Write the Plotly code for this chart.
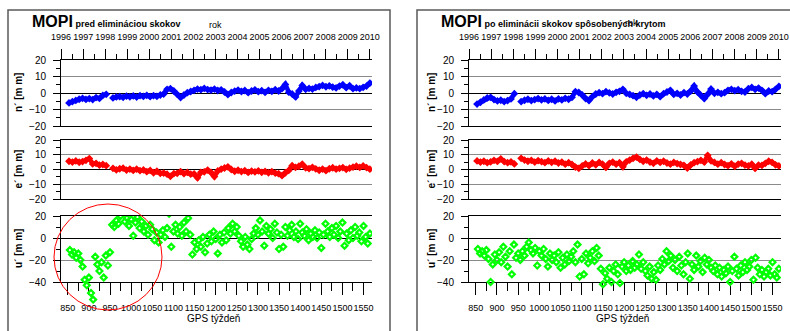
import datetime as dt
import plotly.graph_objects as go

# ---------------- data ----------------
weeks_ne = list(range(853, 1566, 8))   # GPS weeks of the n'/e' samples
weeks_u = list(range(855, 1566, 5))    # GPS weeks of the u' samples

n_left = [-6.0, -5.2, -4.5, -3.8, -3.2, -3.9, -3.4, -4.0, -2.8, -3.3, -1.5, -0.8, None, -3.0, -2.4, -2.2,
          -2.6, -1.9, -2.3, -1.8, -2.5, -1.6, -2.1, -1.4, -2.2, -1.6, -2.0, -1.2, -0.6, 2.2, 2.6, 1.2,
          -0.8, -2.8, -1.2, 0.2, 0.9, 1.6, 2.4, 2.0, 2.8, 2.1, 1.8, 2.4, 1.5, 1.9, 0.6, -0.9,
          0.3, 1.1, 1.8, 0.9, 1.5, 0.2, 1.2, 1.9, 0.8, 1.4, 0.4, 1.6, 1.0, 2.0, 1.2, 2.6,
          5.2, 0.5, -0.6, -2.4, 1.2, 4.6, 2.2, 2.8, 2.4, 3.4, 3.9, 4.6, 3.8, 4.3, 3.5, 3.1,
          4.2, 5.0, 3.2, 4.4, 2.6, 3.1, 2.7, 3.4, 4.2, 6.0]
e_left = [5.6, 5.0, 5.8, 4.9, 5.4, 6.2, 7.4, 3.8, 4.2, 2.9, 3.4, 2.6, None, 0.8, -0.2, 0.5,
          0.9, -0.4, 0.3, -0.6, 0.2, -0.8, -0.3, -1.5, -0.6, -2.2, -1.2, -2.6, -2.4, -3.2, -4.6, -2.8,
          -2.6, -1.4, -2.8, -2.0, -3.2, -3.0, -5.6, -1.9, -1.6, -0.4, -2.0, -4.8, -1.0, 0.2, 1.0, 1.8,
          0.0, -1.2, -0.5, -1.4, -0.8, -2.0, -1.1, -1.6, -0.9, -1.9, -1.3, -2.2, -1.5, -2.4, -2.8, -4.2,
          -2.2, -0.6, 2.6, 1.4, 2.2, 3.6, 1.2, 0.6, 1.5, 0.4, -0.5, 0.3, -0.8, 0.5, 1.2, 0.2,
          0.8, 1.3, 0.1, 0.9, 1.6, 2.2, 1.4, 2.4, 1.3, 0.2]
u_left = [-11, -15, -13, -18, -14, -20, -26, -38, -43, -36, -50, -56, -17, -24, -30, -22, -36, -16, -25, -13,
          12, 10, 16, 13, 20, 24, 15, 18, 11, 17, 2, 14, 19, 9, 15, 6, 11, 3, 12, 8,
          -2, 5, -4, 3, 7, 1, 9, 22, -8, 6, 12, 4, 10, 2, 14, 6, 18, 3, -15, -4,
          -10, -2, -8, 1, -13, -5, 3, -3, 6, -1, -14, 3, -4, 5, -2, 9, 4, 13, 6, 10,
          2, -3, -8, 1, -6, -10, -1, 4, 9, 3, 16, 6, -7, 11, 4, 8, 0, 13, 5, -10,
          3, -8, 10, 2, 7, 12, 1, 6, -1, 13, 5, 2, 8, -2, 4, 1, 7, 0, 5, -9,
          3, 13, 6, 1, 9, 3, 11, 0, 6, 14, -7, 4, -2, 7, 0, 10, 2, 5, -3, 11,
          1, -5, 4]

n_right = [-6.7, -5.6, -4.2, -3.0, -2.6, -4.0, -4.8, -4.4, -5.2, -4.6, -3.6, -0.4, None, -5.2, -4.4, -3.8,
           -4.6, -4.0, -3.4, -4.2, -3.6, -4.5, -3.8, -4.8, -3.6, -4.2, -3.2, -3.8, -2.6, 0.8, 0.3, -1.2,
           -3.4, -4.6, -2.2, -0.6, 0.2, -0.4, 0.8, 0.1, -0.6, 0.4, 1.0, 2.2, -0.2, -0.8, -1.6, -2.6,
           -1.2, -0.4, -1.4, -0.6, -1.8, -0.8, -2.2, -0.4, 0.6, 1.6, -0.8, -0.2, -1.2, 0.2, -0.6, 1.2,
           4.2, 0.6, -1.4, -3.4, -0.8, 2.4, -0.2, 0.4, -0.4, 0.2, 1.6, 2.2, 1.4, 2.0, 1.0, 0.6,
           2.6, 3.4, 2.2, 3.0, 1.6, -0.4, 1.2, 0.8, 2.2, 4.0]
e_right = [5.8, 5.0, 5.6, 4.6, 5.2, 6.2, 5.5, 7.2, 5.4, 4.6, 5.2, 3.8, None, 7.6, 6.4, 5.6,
           6.2, 5.0, 6.0, 5.4, 4.6, 5.8, 4.8, 5.6, 4.4, 5.0, 3.6, 4.6, 3.4, 1.6, 0.8, 2.4,
           3.8, 2.6, 4.4, 3.2, 4.8, 3.6, 1.4, 4.2, 5.0, 3.6, 4.6, 1.8, 5.2, 6.4, 7.6, 8.4,
           6.8, 5.6, 6.4, 5.0, 4.2, 5.8, 4.8, 5.6, 4.4, 3.6, 4.8, 4.0, 3.4, 2.8, 1.0, 3.2,
           4.6, 5.4, 6.2, 5.0, 9.6, 5.8, 4.8, 3.6, 4.6, 3.4, 2.6, 3.8, 2.2, 3.6, 4.2, 3.0,
           2.4, 3.6, 0.8, 3.0, 2.8, 4.2, 5.6, 4.8, 3.2, 2.4]
u_right = [-10, -14, -12, -16, -11, -19, -40, -24, -15, -20, -13, -22, -8, -17, -26, -12, -33, -6, -18, -14,
           -20, -12, -16, -8, -4, -11, -14, -9, -25, -12, -16, -10, -19, -26, -14, -20, -16, -22, -13, -27,
           -18, -24, -15, -21, -17, -12, -22, -6, -35, -19, -33, -14, -23, -18, -12, -21, -9, -16, -28, -42,
           -32, -37, -27, -40, -30, -24, -33, -41, -26, -22, -30, -25, -29, -21, -27, -24, -15, -28, -22, -30,
           -34, -26, -37, -31, -38, -25, -29, -19, -24, -12, -21, -16, -27, -20, -30, -17, -25, -33, -22, -14,
           -37, -24, -29, -16, -26, -21, -31, -18, -24, -20, -27, -30, -25, -33, -27, -35, -29, -32, -26, -40,
           -30, -17, -28, -34, -25, -31, -22, -29, -26, -20, -38, -18, -27, -33, -29, -35, -31, -28, -34, -22,
           -33, -36, -28]

years = list(range(1996, 2011))
gps_ticks = list(range(850, 1551, 50))
gps_minor = list(range(875, 1551, 50))

titles_main = ["pred elimináciou skokov", "po eliminácii skokov spôsobených krytom"]

# ---------------- helpers ----------------
def gps_week(d):
    return (d - dt.date(1980, 1, 6)).days / 7.0

year_pos = [gps_week(dt.date(y, 1, 1)) for y in years]
half_pos = [gps_week(dt.date(y, 7, 1)) for y in years[:-1]]

W, H = 790, 331
def px(x):
    return x / W
def py(y):
    return 1 - y / H

FONT = "Liberation Sans Narrow, Arial Narrow, Liberation Sans, Arial, sans-serif"
XR = [834, 1570]

panels = [
    dict(xd=[px(61), px(372)], box=(8, 390), tx=30, rok=215, ylab=18, gps=213),
    dict(xd=[px(469), px(781)], box=(417, 792), tx=439, rok=631, ylab=431, gps=622),
]
rows = dict(n=[py(126), py(60)], e=[py(199), py(140)], u=[py(282), py(216)])
# hidden axes for u' points: same scale as the u' axis, but reaching below -40
U_EXT_RANGE = [-60, 20]
u_ext_domain = [py(304), py(216)]

series = [(n_left, e_left, u_left), (n_right, e_right, u_right)]

fig = go.Figure()
layout = {}
annotations = []
shapes = []

def an(i):
    return "" if i == 1 else str(i)

for p, pan in enumerate(panels):
    nvals, evals, uvals = series[p]
    b = 3 * p
    ids = [b + 1, b + 2, b + 3]
    ext = str(7 + p)
    # traces
    fig.add_trace(go.Scatter(x=weeks_ne, y=nvals, mode="lines+markers",
                             line=dict(color="#0000FF", width=4.5),
                             marker=dict(color="#0000FF", size=6, symbol="diamond"),
                             xaxis="x" + an(ids[0]), yaxis="y" + an(ids[0]),
                             showlegend=False, connectgaps=False))
    fig.add_trace(go.Scatter(x=weeks_ne, y=evals, mode="lines+markers",
                             line=dict(color="#FF0000", width=4.5),
                             marker=dict(color="#FF0000", size=6, symbol="diamond"),
                             xaxis="x" + an(ids[1]), yaxis="y" + an(ids[1]),
                             showlegend=False, connectgaps=False))
    # empty trace so that the visible u' axes are drawn
    fig.add_trace(go.Scatter(x=[], y=[], mode="markers", xaxis="x" + an(ids[2]),
                             yaxis="y" + an(ids[2]), showlegend=False))
    fig.add_trace(go.Scatter(x=weeks_u, y=uvals, mode="markers",
                             marker=dict(color="#00FF00", size=4.5, symbol="diamond-open",
                                         line=dict(color="#00FF00", width=2.2)),
                             xaxis="x" + ext, yaxis="y" + ext,
                             showlegend=False))

    for k, key in enumerate(["n", "e", "u"]):
        i = ids[k]
        xa = dict(domain=pan["xd"], range=XR, anchor="y" + an(i), showgrid=False,
                  zeroline=False, showline=True, linecolor="black", linewidth=1,
                  mirror=True, fixedrange=True, automargin=False, tickangle=0)
        if key == "n":
            xa.update(side="top", tickmode="array", tickvals=year_pos, ticktext=[str(y) for y in years],
                      ticks="outside", ticklen=10, tickcolor="black", tickwidth=1,
                      ticklabelstandoff=5,
                      tickfont=dict(family=FONT, size=9, color="black"),
                      minor=dict(tickmode="array", tickvals=half_pos, ticks="outside",
                                 ticklen=5, tickcolor="black", tickwidth=1))
        elif key == "e":
            xa.update(showticklabels=False, ticks="")
        else:
            xa.update(tickmode="array", tickvals=gps_ticks, ticktext=[str(t) for t in gps_ticks],
                      ticks="outside", ticklen=12, tickcolor="black", tickwidth=1,
                      ticklabelstandoff=5,
                      tickfont=dict(family=FONT, size=9, color="black"),
                      minor=dict(tickmode="array", tickvals=gps_minor, ticks="outside",
                                 ticklen=8, tickcolor="black", tickwidth=1))
        if key == "u":
            yr, ydt, ymin = [-40, 20], 20, 10
        else:
            yr, ydt, ymin = [-20, 20], 10, 5
        ya = dict(domain=rows[key], range=yr, anchor="x" + an(i), dtick=ydt, tick0=0,
                  showgrid=True, gridcolor="#8a8a8a", gridwidth=1,
                  zeroline=True, zerolinecolor="black", zerolinewidth=1,
                  showline=True, linecolor="black", linewidth=1,
                  ticks="outside", ticklen=7, tickcolor="black", tickwidth=1,
                  ticklabelstandoff=5, automargin=False,
                  tickfont=dict(family=FONT, size=10, color="black"),
                  minor=dict(dtick=ymin, tick0=0, ticks="outside", ticklen=4,
                             tickcolor="black", tickwidth=1, showgrid=False),
                  fixedrange=True)
        layout["xaxis" + an(i)] = xa
        layout["yaxis" + an(i)] = ya

    layout["xaxis" + ext] = dict(domain=pan["xd"], range=XR, anchor="y" + ext, visible=False,
                                 showgrid=False, zeroline=False, automargin=False, fixedrange=True)
    layout["yaxis" + ext] = dict(domain=u_ext_domain, range=U_EXT_RANGE, anchor="x" + ext,
                                 visible=False, showgrid=False, zeroline=False,
                                 automargin=False, fixedrange=True)

    # y axis titles
    for key, lab in [("n", "n´ [m m]"), ("e", "e´ [m m]"), ("u", "u´ [m m]")]:
        d = rows[key]
        annotations.append(dict(x=px(pan["ylab"]), y=(d[0] + d[1]) / 2, xref="paper", yref="paper",
                                text="<b>" + lab + "</b>", textangle=-90, showarrow=False,
                                font=dict(family=FONT, size=10, color="black"),
                                xanchor="center", yanchor="middle"))
    # titles
    annotations.append(dict(x=px(pan["tx"]), y=py(21), xref="paper", yref="paper",
                            text="<b><span style='font-size:16px'>MOPI</span> " + titles_main[p] + "</b>",
                            showarrow=False, xanchor="left", yanchor="middle",
                            font=dict(family=FONT, size=9, color="black")))
    annotations.append(dict(x=px(pan["rok"]), y=py(25 if p == 0 else 23), xref="paper", yref="paper",
                            text="rok", showarrow=False, xanchor="center", yanchor="middle",
                            font=dict(family=FONT, size=9, color="black")))
    annotations.append(dict(x=px(pan["gps"]), y=py(318), xref="paper", yref="paper",
                            text="GPS týždeň", showarrow=False, xanchor="center", yanchor="middle",
                            font=dict(family=FONT, size=10, color="black")))
    # frame box
    shapes.append(dict(type="rect", xref="paper", yref="paper",
                       x0=px(pan["box"][0]), x1=px(pan["box"][1]), y0=py(345), y1=py(10),
                       line=dict(color="#5a5a5a", width=1.5), fillcolor="rgba(0,0,0,0)", layer="below"))

# red ellipse marking the jump region
shapes.append(dict(type="circle", xref="paper", yref="paper",
                   x0=px(54), x1=px(162), y0=py(310), y1=py(204),
                   line=dict(color="#FF0000", width=1)))

fig.update_layout(template="none", width=W, height=H, margin=dict(l=0, r=0, t=0, b=0),
                  paper_bgcolor="white", plot_bgcolor="rgba(0,0,0,0)",
                  annotations=annotations, shapes=shapes, showlegend=False, **layout)

fig.write_html("out.html", config={"displayModeBar": False},
               post_script="document.body.style.margin='0';document.body.style.overflow='hidden';")
